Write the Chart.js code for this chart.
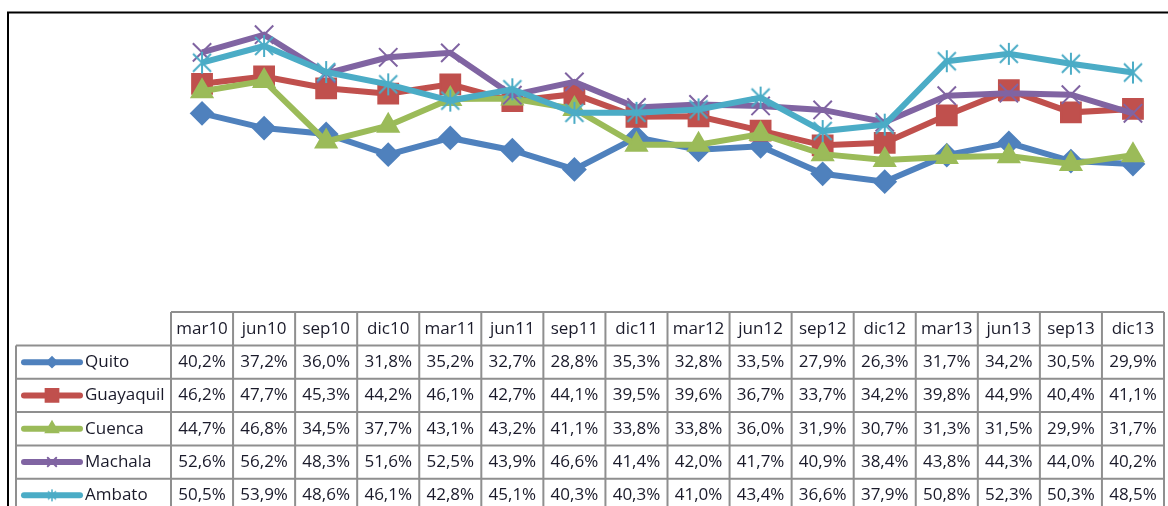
<!DOCTYPE html>
<html>
<head>
<meta charset="utf-8">
<script src="https://cdn.jsdelivr.net/npm/chart.js@4/dist/chart.umd.min.js"></script>
<style>
  html, body { margin: 0; padding: 0; background: #fff; overflow: hidden; }
  #wrap { width: 1180px; height: 506px; }
</style>
</head>
<body>
<div id="wrap"><canvas id="chart" width="1180" height="506"></canvas></div>
<script>
const periods = ["mar10", "jun10", "sep10", "dic10", "mar11", "jun11", "sep11", "dic11",
  "mar12", "jun12", "sep12", "dic12", "mar13", "jun13", "sep13", "dic13"];
const seriesNames = ["Quito", "Guayaquil", "Cuenca", "Machala", "Ambato"];
const quito = [40.2, 37.2, 36.0, 31.8, 35.2, 32.7, 28.8, 35.3, 32.8, 33.5, 27.9, 26.3, 31.7, 34.2, 30.5, 29.9];
const guayaquil = [46.2, 47.7, 45.3, 44.2, 46.1, 42.7, 44.1, 39.5, 39.6, 36.7, 33.7, 34.2, 39.8, 44.9, 40.4, 41.1];
const cuenca = [44.7, 46.8, 34.5, 37.7, 43.1, 43.2, 41.1, 33.8, 33.8, 36.0, 31.9, 30.7, 31.3, 31.5, 29.9, 31.7];
const machala = [52.6, 56.2, 48.3, 51.6, 52.5, 43.9, 46.6, 41.4, 42.0, 41.7, 40.9, 38.4, 43.8, 44.3, 44.0, 40.2];
const ambato = [50.5, 53.9, 48.6, 46.1, 42.8, 45.1, 40.3, 40.3, 41.0, 43.4, 36.6, 37.9, 50.8, 52.3, 50.3, 48.5];
const yMin = 0;
const yMax = 60;

const colors = ["#4F81BD", "#C0504D", "#9BBB59", "#8064A2", "#4BACC6"];
const allValues = [quito, guayaquil, cuenca, machala, ambato];

// asterisk marker (Excel "*" style) for Ambato
function makeStar(size, color, lw) {
  const c = document.createElement("canvas");
  c.width = size; c.height = size;
  const g = c.getContext("2d");
  const m = size / 2, a = size / 2 - 3;
  g.strokeStyle = color;
  g.lineWidth = lw;
  g.beginPath();
  g.moveTo(m - a, m - a); g.lineTo(m + a, m + a);
  g.moveTo(m + a, m - a); g.lineTo(m - a, m + a);
  g.moveTo(m, 1); g.lineTo(m, size - 1);
  g.stroke();
  return c;
}
const starBig = makeStar(24, colors[4], 2);
const starSmall = makeStar(14, colors[4], 1.5);

const styles = ["rectRot", "rect", "triangle", "crossRot", starBig];
const radii = [11, 14, 12, 13, 12];

function fmt(v) {
  return v.toFixed(1).replace(".", ",") + "%";
}

const tablePlugin = {
  id: "dataTable",
  beforeDraw(chart) {
    const ctx = chart.ctx;
    ctx.save();
    ctx.fillStyle = "#fff";
    ctx.fillRect(0, 0, chart.width, chart.height);
    ctx.restore();
  },
  afterDraw(chart) {
    const ctx = chart.ctx;
    const x = chart.scales.x;
    const half = (x.getPixelForValue(1) - x.getPixelForValue(0)) / 2;
    const left = x.getPixelForValue(0) - half;
    const right = x.getPixelForValue(periods.length - 1) + half;
    const top = chart.chartArea.bottom + 1;
    const headH = 33.5;
    const rowH = 33.3;
    const legLeft = 16;

    ctx.save();
    // outer frame
    ctx.strokeStyle = "#000";
    ctx.lineWidth = 2;
    ctx.beginPath();
    ctx.moveTo(8, 516);
    ctx.lineTo(8, 12.5);
    ctx.lineTo(chart.width + 2, 12.5);
    ctx.stroke();

    // grid
    ctx.strokeStyle = "#8f8f8f";
    ctx.lineWidth = 2;
    ctx.beginPath();
    ctx.moveTo(left, top); ctx.lineTo(right, top);
    for (let r = 0; r <= seriesNames.length; r++) {
      const y = top + headH + r * rowH;
      ctx.moveTo(legLeft, y); ctx.lineTo(right, y);
    }
    for (let i = 0; i <= periods.length; i++) {
      const xx = left + i * half * 2;
      ctx.moveTo(xx, top); ctx.lineTo(xx, chart.height + 10);
    }
    ctx.moveTo(legLeft, top + headH); ctx.lineTo(legLeft, chart.height + 10);
    ctx.stroke();

    // header
    ctx.fillStyle = "#1a1a2a";
    ctx.font = "17px 'Open Sans'";
    ctx.textAlign = "center";
    ctx.textBaseline = "middle";
    periods.forEach((p, i) => {
      ctx.fillText(p, x.getPixelForValue(i), top + headH / 2);
    });

    // rows
    seriesNames.forEach((name, r) => {
      const cy = top + headH + r * rowH + rowH / 2;
      allValues[r].forEach((v, i) => {
        ctx.fillText(fmt(v), x.getPixelForValue(i), cy);
      });
      // legend key
      ctx.save();
      ctx.strokeStyle = colors[r];
      ctx.lineWidth = 6;
      ctx.lineCap = "round";
      ctx.beginPath();
      ctx.moveTo(24, cy); ctx.lineTo(80, cy);
      ctx.stroke();
      const st = r === 4 ? starSmall : styles[r];
      const rad = [5, 9, 7, 6, 6][r];
      ctx.fillStyle = colors[r];
      ctx.lineWidth = 2;
      Chart.helpers.drawPoint(ctx, { pointStyle: st, radius: rad, borderWidth: 2, rotation: 0 }, 52, cy);
      ctx.restore();
      ctx.textAlign = "left";
      ctx.fillText(name, 85, cy);
      ctx.textAlign = "center";
    });
    ctx.restore();
  }
};

const datasets = seriesNames.map((name, k) => ({
  label: name,
  data: allValues[k],
  borderColor: colors[k],
  backgroundColor: colors[k],
  pointBackgroundColor: colors[k],
  pointBorderColor: colors[k],
  borderWidth: 6,
  pointStyle: styles[k],
  pointRadius: radii[k],
  pointBorderWidth: 2,
  tension: 0,
  order: seriesNames.length - k
}));

new Chart(document.getElementById("chart"), {
  type: "line",
  data: { labels: periods, datasets: datasets },
  options: {
    responsive: false,
    devicePixelRatio: 1,
    animation: false,
    layout: { padding: { left: 171, right: 7.4, top: 14, bottom: 195 } },
    plugins: { legend: { display: false }, tooltip: { enabled: false } },
    scales: {
      x: { display: false, offset: true },
      y: { display: false, min: yMin, max: yMax }
    }
  },
  plugins: [tablePlugin]
});
</script>
</body>
</html>
